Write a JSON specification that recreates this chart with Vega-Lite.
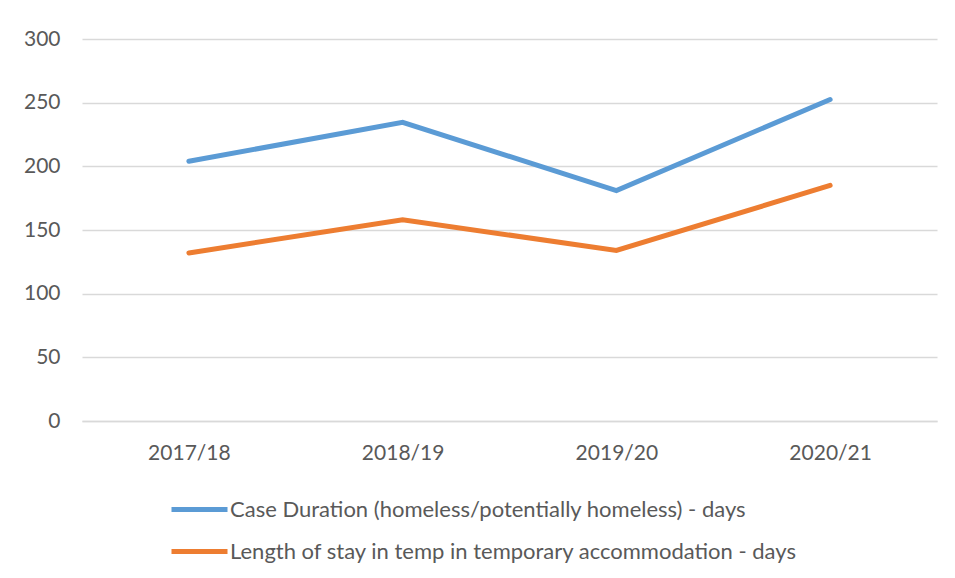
{
  "$schema": "https://vega.github.io/schema/vega-lite/v6.json",
  "width": 855,
  "height": 382,
  "autosize": {"type": "none"},
  "padding": {"left": 82, "top": 39, "right": 18, "bottom": 157},
  "background": "white",
  "config": {
    "font": "Lato",
    "view": {"stroke": null},
    "axis": {"labelFont": "Lato", "labelColor": "#595959", "labelFontSize": 21}
  },
  "data": {
    "values": [
      {"year": "2017/18", "series": "Case Duration (homeless/potentially homeless) - days", "value": 204},
      {"year": "2018/19", "series": "Case Duration (homeless/potentially homeless) - days", "value": 234.5},
      {"year": "2019/20", "series": "Case Duration (homeless/potentially homeless) - days", "value": 181},
      {"year": "2020/21", "series": "Case Duration (homeless/potentially homeless) - days", "value": 252.5},
      {"year": "2017/18", "series": "Length of stay in temp in temporary accommodation - days", "value": 132},
      {"year": "2018/19", "series": "Length of stay in temp in temporary accommodation - days", "value": 158},
      {"year": "2019/20", "series": "Length of stay in temp in temporary accommodation - days", "value": 134},
      {"year": "2020/21", "series": "Length of stay in temp in temporary accommodation - days", "value": 185}
    ]
  },
  "mark": {"type": "line", "strokeWidth": 5, "strokeCap": "round", "strokeJoin": "miter"},
  "encoding": {
    "x": {
      "field": "year", "type": "ordinal",
      "scale": {"type": "point", "padding": 0.5},
      "axis": {"title": null, "labelAngle": 0, "ticks": false, "domain": true, "domainColor": "#d9d9d9", "domainWidth": 1.5, "labelPadding": 21, "grid": false}
    },
    "y": {
      "field": "value", "type": "quantitative",
      "scale": {"domain": [0, 300], "nice": false},
      "axis": {"title": null, "values": [0, 50, 100, 150, 200, 250, 300], "ticks": false, "domain": false, "gridColor": "#d9d9d9", "gridWidth": 1.5, "labelPadding": 22}
    },
    "color": {
      "field": "series", "type": "nominal",
      "scale": {"range": ["#5b9bd5", "#ed7d31"]},
      "legend": {
        "title": null, "orient": "none", "legendX": 87, "legendY": 440, "direction": "vertical",
        "symbolType": "stroke", "symbolSize": 3136, "symbolStrokeWidth": 5,
        "labelFont": "Lato", "labelFontSize": 22, "labelColor": "#595959", "labelOffset": 0,
        "labelLimit": 800, "rowPadding": -12
      }
    }
  }
}
